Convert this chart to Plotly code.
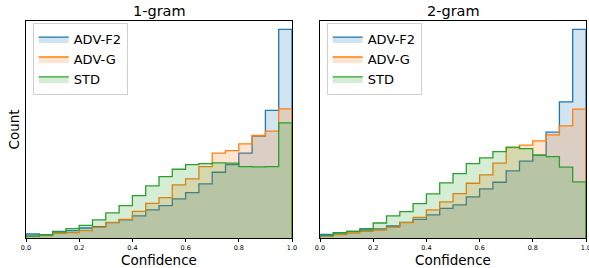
import plotly.graph_objects as go

bin_edges = [round(i * 0.05, 2) for i in range(21)]
series_names = ["ADV-F2", "ADV-G", "STD"]
colors = ["#1f77b4", "#ff7f0e", "#2ca02c"]
fills = ["rgba(31,119,180,0.2)", "rgba(255,127,14,0.2)", "rgba(44,160,44,0.2)"]

# 1-gram counts per bin
g1_adv_f2 = [12, 10, 20, 22, 30, 34, 46, 54, 66, 84, 97, 117, 136, 162, 197, 220, 254, 305, 382, 625]
g1_adv_g = [5, 7, 14, 16, 22, 32, 47, 56, 80, 104, 121, 159, 177, 214, 254, 262, 282, 307, 320, 387]
g1_std = [6, 9, 18, 28, 38, 54, 75, 97, 127, 156, 184, 206, 220, 223, 225, 224, 214, 213, 214, 345]

# 2-gram counts per bin
g2_adv_f2 = [11, 16, 20, 24, 27, 36, 47, 56, 69, 89, 99, 123, 147, 167, 201, 230, 248, 317, 408, 625]
g2_adv_g = [6, 10, 15, 20, 24, 32, 46, 62, 84, 108, 133, 164, 189, 224, 271, 278, 291, 309, 336, 386]
g2_std = [7, 15, 20, 28, 45, 66, 79, 103, 132, 165, 193, 223, 240, 259, 272, 268, 248, 244, 212, 168]

panels = [
    ("1-gram", [g1_adv_f2, g1_adv_g, g1_std], "x", "y", "legend"),
    ("2-gram", [g2_adv_f2, g2_adv_g, g2_std], "x2", "y2", "legend2"),
]

fig = go.Figure()
for title, data, xa, ya, lg in panels:
    for name, counts, c, f in zip(series_names, data, colors, fills):
        xs = [bin_edges[0]] + bin_edges + [bin_edges[-1]]
        ys = [0] + counts + [counts[-1]] + [0]
        fig.add_trace(go.Scatter(
            x=xs, y=ys, mode="lines", line=dict(color=c, width=1.3, shape="hv"),
            fill="tozeroy", fillcolor=f, name=name, xaxis=xa, yaxis=ya,
            legend=lg, hoverinfo="skip"))

font = "DejaVu Sans, Arial, sans-serif"
ax_common = dict(range=[0, 1], tickvals=[0, 0.2, 0.4, 0.6, 0.8, 1.0],
                 ticktext=["0.0", "0.2", "0.4", "0.6", "0.8", "1.0"],
                 ticks="outside", ticklen=3, tickwidth=0.8, tickcolor="black",
                 tickfont=dict(size=6.5, color="black", family=font),
                 ticklabeloverflow="allow",
                 showline=True, linecolor="black", linewidth=1, mirror=True,
                 showgrid=False, zeroline=False, automargin=False)
y_common = dict(range=[0, 650], showticklabels=False, ticks="", showline=True,
                linecolor="black", linewidth=1, mirror=True, showgrid=False, zeroline=False,
                automargin=False)

legend_common = dict(font=dict(size=13, color="black", family=font), bgcolor="rgba(255,255,255,0.8)",
                     bordercolor="#d0d0d0", borderwidth=1, xanchor="left", yanchor="top",
                     itemwidth=30, tracegroupgap=0)

lab_font = dict(size=13.5, color="black", family=font)
fig.update_layout(
    width=589, height=268,
    margin=dict(l=26, r=3, t=21, b=30),
    plot_bgcolor="white", paper_bgcolor="white",
    font=dict(family=font, color="black"),
    showlegend=True,
    xaxis=dict(domain=[0, 0.475], anchor="y", **ax_common),
    xaxis2=dict(domain=[0.525, 1], anchor="y2", **ax_common),
    yaxis=dict(domain=[0, 1], anchor="x", **y_common),
    yaxis2=dict(domain=[0, 1], anchor="x2", **y_common),
    legend=dict(x=0.012, y=0.99, xref="paper", yref="paper", **legend_common),
    legend2=dict(x=0.537, y=0.99, xref="paper", yref="paper", **legend_common),
    annotations=[
        dict(text="1-gram", x=0.2375, y=1.0, xref="paper", yref="paper", xanchor="center",
             yanchor="bottom", yshift=0, showarrow=False, font=dict(size=14.5, color="black", family=font)),
        dict(text="2-gram", x=0.7625, y=1.0, xref="paper", yref="paper", xanchor="center",
             yanchor="bottom", yshift=0, showarrow=False, font=dict(size=14.5, color="black", family=font)),
        dict(text="Confidence", x=0.2375, y=0, xref="paper", yref="paper", xanchor="center",
             yanchor="top", yshift=-12, showarrow=False, font=lab_font),
        dict(text="Confidence", x=0.7625, y=0, xref="paper", yref="paper", xanchor="center",
             yanchor="top", yshift=-12, showarrow=False, font=lab_font),
        dict(text="Count", x=0, y=0.5, xref="paper", yref="paper", xanchor="right",
             yanchor="middle", xshift=-3, textangle=-90, showarrow=False, font=lab_font),
    ],
)

fig.write_html("out.html", config={"displayModeBar": False},
               post_script="document.body.style.margin='0px';document.body.style.overflow='hidden';")
